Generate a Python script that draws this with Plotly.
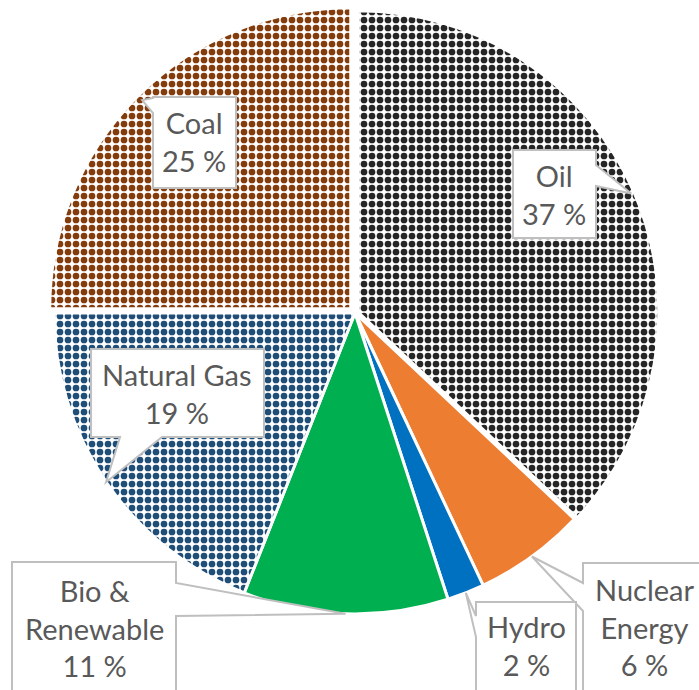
import math
import plotly.graph_objects as go

# Share of world primary energy consumption by source
sources = ["Oil", "Nuclear<br>Energy", "Hydro", "Bio &<br>Renewable", "Natural Gas", "Coal"]
shares = [37, 6, 2, 11, 19, 25]
colors = ["#262626", "#ED7D31", "#0070C0", "#00B050", "#1F4E79", "#843C0C"]
patterns = [".", "", "", "", ".", "."]
pulls = [0.01, 0, 0, 0, 0, 0.02]

W, H = 699, 690
CX, CY, R = 355, 313, 301          # pie centre and radius in pixels
side = R * (2 + 2 * max(pulls))      # domain side so the drawn radius is R

# Callout boxes (pixels): left, top, right, bottom, edge holding the pointer,
# the pointer's base span on that edge, and the text centre
callouts = [
    dict(box=(513, 150, 596, 238), edge="right", base=(165, 186), text=(554, 194)),
    dict(box=(583, 563, 730, 730), edge="left", base=(583, 611), text=(644, 627)),
    dict(box=(476, 602, 576, 730), edge="left", base=(616, 637), text=(526, 645)),
    dict(box=(12, 562, 176, 730), edge="right", base=(583, 616), text=(94, 628)),
    dict(box=(91, 349, 264, 437), edge="bottom", base=(120, 162), text=(177, 393)),
    dict(box=(153, 97, 236, 188), edge="left", base=(98, 113), text=(194, 142)),
]


def px(x):
    return x / W


def py(y):
    return 1 - y / H


fig = go.Figure(go.Pie(
    labels=sources,
    values=shares,
    sort=False,
    direction="clockwise",
    rotation=0,
    pull=pulls,
    textinfo="none",
    hoverinfo="label+percent",
    showlegend=False,
    marker=dict(
        colors=colors,
        line=dict(color="white", width=3),
        pattern=dict(shape=patterns, fgcolor=colors, bgcolor="white",
                     size=8, solidity=0.55, fillmode="replace"),
    ),
    domain=dict(x=[px(CX - side / 2), px(CX + side / 2)],
                y=[py(CY + side / 2), py(CY - side / 2)]),
))

shapes, annotations = [], []
total = sum(shares)
cum = 0
for name, val, c in zip(sources, shares, callouts):
    mid = (cum + val / 2) / total * 2 * math.pi
    cum += val
    tip = (CX + R * math.sin(mid), CY - R * math.cos(mid))
    l, t, r, b = c["box"]
    a0, a1 = c["base"]
    if c["edge"] == "right":
        pts = [(l, t), (r, t), (r, a0), tip, (r, a1), (r, b), (l, b)]
    elif c["edge"] == "left":
        pts = [(l, t), (r, t), (r, b), (l, b), (l, a1), tip, (l, a0)]
    else:  # bottom
        pts = [(l, t), (r, t), (r, b), (a1, b), tip, (a0, b), (l, b)]
    path = "M " + " L ".join(f"{px(x):.5f},{py(y):.5f}" for x, y in pts) + " Z"
    shapes.append(dict(type="path", xref="paper", yref="paper", path=path,
                       fillcolor="white", line=dict(color="#BFBFBF", width=2)))
    tx, ty = c["text"]
    annotations.append(dict(
        x=px(tx), y=py(ty), xref="paper", yref="paper",
        text=f"{name}<br>{val} %", showarrow=False,
        xanchor="center", yanchor="middle", align="center",
        font=dict(family="Lato", size=29, color="#595959"),
    ))

fig.update_layout(
    width=W, height=H,
    margin=dict(l=0, r=0, t=0, b=0),
    paper_bgcolor="white", plot_bgcolor="white",
    shapes=shapes, annotations=annotations,
)

fig.write_html("out.html")
